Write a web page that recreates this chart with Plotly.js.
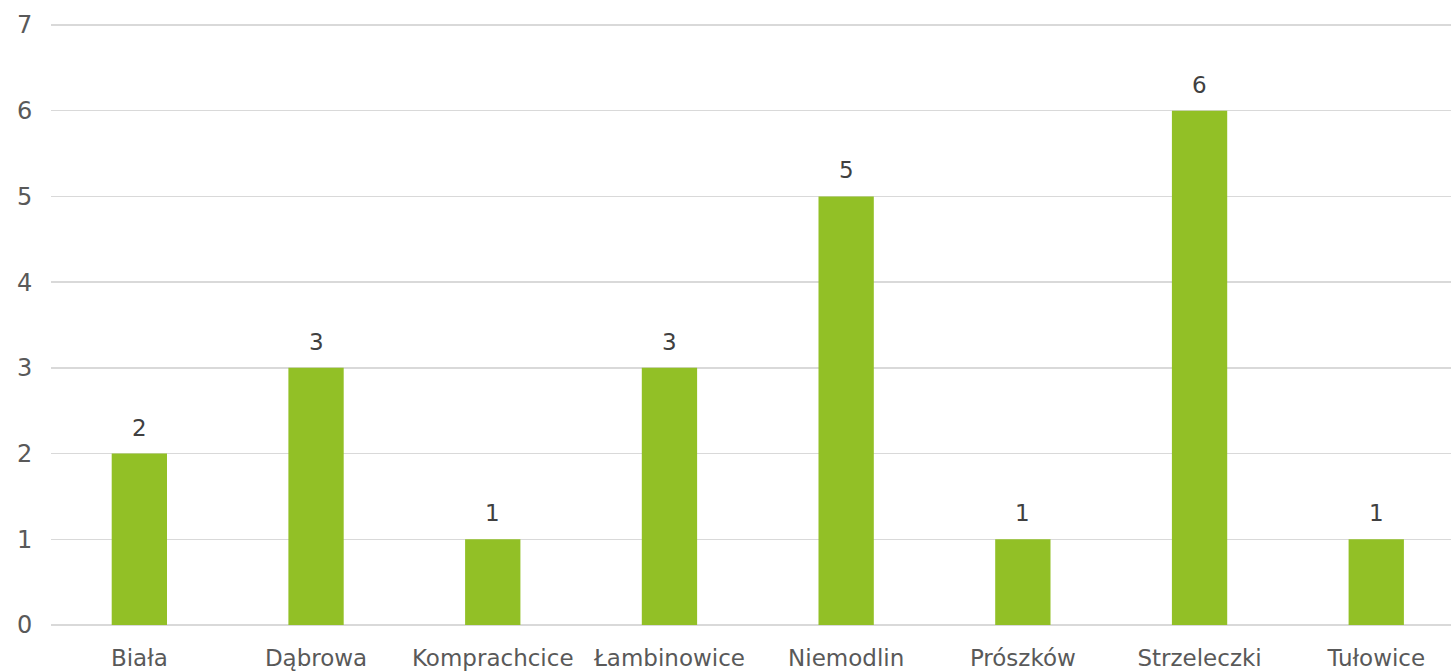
<!DOCTYPE html>
<html><head><meta charset="utf-8">
<script src="https://cdn.plot.ly/plotly-3.0.1.min.js"></script>
<style>html,body{margin:0;padding:0;background:#fff}#c{width:1451px;height:672px}</style>
</head><body><div id="c"></div>
<script>
const categories = ["Biała","Dąbrowa","Komprachcice","Łambinowice","Niemodlin","Prószków","Strzeleczki","Tułowice"];
const values = [2,3,1,3,5,1,6,1];
const yTicks = [0,1,2,3,4,5,6,7];

const FONT = 'DejaVu Sans';
const trace = {
  type: 'bar',
  x: categories,
  y: values,
  width: 0.313,
  marker: {color: '#92c026'},
  hoverinfo: 'none'
};
const annotations = categories.map((c, i) => ({
  x: c, y: values[i], xref: 'x', yref: 'y',
  text: String(values[i]), showarrow: false,
  yanchor: 'bottom', yshift: 11,
  font: {family: FONT, size: 23, color: '#404040'}
}));
const layout = {
  width: 1451, height: 672,
  margin: {l: 51, r: 0, t: 22, b: 47},
  paper_bgcolor: '#fff', plot_bgcolor: '#fff',
  showlegend: false,
  font: {family: FONT, size: 23, color: '#595959'},
  annotations: annotations,
  xaxis: {
    type: 'category',
    range: [-0.5, 7.423],
    showgrid: false, zeroline: false,
    showline: false,
    ticks: 'outside', ticklen: 12, tickcolor: 'rgba(0,0,0,0)',
    tickfont: {family: FONT, size: 23, color: '#595959'}
  },
  yaxis: {
    range: [0, 7.035],
    tickvals: yTicks,
    ticktext: yTicks.map(String),
    showgrid: true, gridcolor: '#d9d9d9', gridwidth: 1.3,
    zeroline: true, zerolinecolor: '#d9d9d9', zerolinewidth: 1.5,
    ticks: 'outside', ticklen: 13, tickcolor: 'rgba(0,0,0,0)',
    tickfont: {family: FONT, size: 24, color: '#595959'}
  }
};
Plotly.newPlot('c', [trace], layout, {displayModeBar: false, staticPlot: true});
</script></body></html>
